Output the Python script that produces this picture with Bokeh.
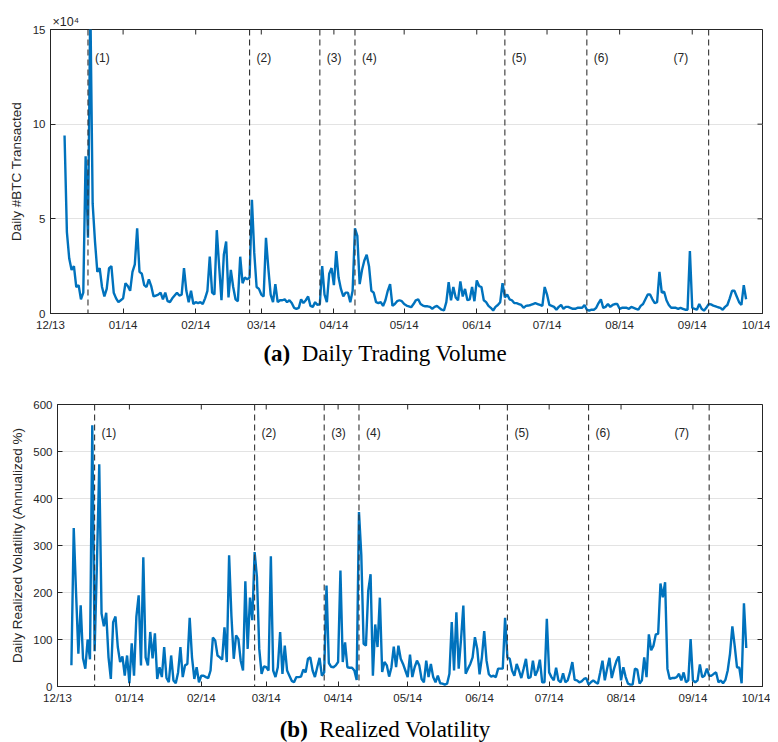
import math
import pandas as pd
from bokeh.plotting import figure
from bokeh.models import (Range1d, FixedTicker, DatetimeTickFormatter, Span,
                          ColumnDataSource, Div)
from bokeh.layouts import column
from bokeh.core.properties import value
from bokeh.embed import file_html
from bokeh.resources import INLINE

# ---------------- data ----------------
START_DATE = "2013-12-07"          # first daily observation
X_START, X_END = "2013-12-01", "2014-10-01"

# daily #BTC transacted, in units of 1e4
volume = [
    9.4, 4.3, 2.9, 2.3, 2.5, 1.4, 1.5, 0.75, 1.1, 8.3,
    4.0, 16.5, 5.8, 3.8, 2.2, 2.4, 1.4, 0.9, 1.3, 2.4,
    2.5, 1.1, 0.8, 0.6, 0.7, 0.8, 1.6, 1.45, 1.2, 2.2,
    2.6, 4.5, 2.2, 2.1, 1.5, 1.4, 1.8, 1.45, 0.9, 0.95,
    1.0, 1.1, 0.75, 1.1, 0.65, 0.6, 0.8, 0.95, 1.1, 0.95,
    1.0, 2.4, 1.2, 0.6, 1.2, 0.5, 0.6, 0.55, 0.6, 0.5,
    0.8, 1.2, 3.0, 1.1, 1.0, 4.4, 2.5, 0.7, 3.1, 3.8,
    0.85, 2.3, 1.4, 0.75, 0.65, 3.0, 1.6, 1.9, 1.8, 1.9,
    6.0, 3.2, 1.4, 1.3, 1.0, 0.9, 4.0, 2.4, 1.0, 0.6,
    1.55, 0.6, 0.7, 0.7, 0.75, 0.6, 0.7, 0.55, 0.3, 0.25,
    0.3, 0.75, 0.55, 0.7, 0.9, 0.4, 0.35, 0.6, 0.45, 0.5,
    2.5, 1.0, 0.6, 2.1, 2.4, 1.5, 3.3, 1.9, 1.3, 0.9,
    1.1, 1.1, 0.6, 1.2, 4.5, 4.1, 1.55, 2.3, 2.8, 3.1,
    2.5, 1.2, 1.1, 0.6, 0.55, 0.6, 0.4, 0.7, 1.2, 1.55,
    0.4, 0.5, 0.65, 0.7, 0.65, 0.5, 0.42, 0.38, 0.33, 0.5,
    0.7, 0.75, 0.5, 0.42, 0.38, 0.38, 0.35, 0.25, 0.35, 0.4,
    0.3, 0.2, 0.16, 0.6, 1.65, 0.7, 1.4, 0.85, 0.7, 1.7,
    0.9, 1.3, 0.7, 0.75, 1.4, 0.65, 1.75, 1.45, 1.4, 0.7,
    0.6, 0.4, 0.3, 0.16, 0.35, 0.45, 0.6, 1.6, 0.85, 1.0,
    0.75, 0.7, 0.55, 0.55, 0.5, 0.45, 0.3, 0.4, 0.42, 0.45,
    0.5, 0.55, 0.5, 0.45, 0.4, 1.4, 1.0, 0.45, 0.4, 0.35,
    0.2, 0.35, 0.45, 0.25, 0.35, 0.35, 0.3, 0.25, 0.25, 0.3,
    0.3, 0.3, 0.45, 0.2, 0.15, 0.2, 0.2, 0.3, 0.55, 0.75,
    0.3, 0.35, 0.5, 0.35, 0.45, 0.5, 0.5, 0.25, 0.3, 0.3,
    0.3, 0.25, 0.35, 0.3, 0.25, 0.2, 0.4, 0.5, 0.75, 1.0,
    1.0, 0.75, 0.55, 0.6, 2.2, 1.1, 1.15, 0.7, 0.45, 0.3,
    0.3, 0.3, 0.25, 0.3, 0.25, 0.2, 0.2, 3.3, 0.3, 0.25,
    0.2, 0.5, 0.25, 0.15, 0.3, 0.5, 0.48, 0.42, 0.38, 0.33,
    0.3, 0.2, 0.35, 0.45, 0.8, 1.2, 1.2, 0.9, 0.6, 0.45,
    1.5, 0.75,
]

# daily realized volatility, annualized %
volatility = [
    45, 337, 200, 70, 173, 60, 38, 100, 58, 556,
    75, 260, 473, 155, 128, 157, 62, 16, 137, 149,
    84, 52, 64, 23, 66, 7, 92, 23, 148, 194,
    45, 275, 62, 45, 116, 60, 113, 16, 41, 20,
    84, 18, 9, 66, 13, 7, 30, 84, 20, 45,
    48, 146, 62, 16, 41, 9, 23, 23, 20, 18,
    34, 104, 98, 66, 62, 57, 126, 52, 279, 150,
    59, 109, 101, 55, 34, 224, 80, 189, 141, 286,
    233, 80, 27, 43, 41, 34, 277, 34, 20, 41,
    116, 27, 87, 34, 23, 12, 9, 20, 20, 21,
    36, 30, 59, 62, 34, 20, 41, 61, 23, 30,
    215, 50, 42, 41, 45, 52, 247, 52, 94, 41,
    40, 40, 34, 14, 371, 280, 91, 87, 204, 239,
    23, 132, 84, 189, 31, 52, 45, 21, 41, 85,
    41, 87, 59, 48, 34, 20, 68, 20, 41, 55,
    45, 16, 9, 55, 20, 48, 20, 9, 23, 7,
    6, 4, 6, 27, 137, 34, 158, 38, 100, 172,
    27, 38, 48, 62, 105, 80, 26, 62, 118, 55,
    26, 21, 23, 20, 38, 38, 38, 146, 62, 59,
    34, 23, 48, 34, 18, 38, 59, 18, 20, 55,
    23, 34, 57, 9, 9, 144, 30, 20, 13, 40,
    13, 9, 28, 9, 13, 30, 52, 14, 13, 9,
    11, 16, 18, 4, 9, 13, 9, 6, 30, 55,
    13, 38, 61, 18, 38, 54, 64, 13, 41, 20,
    6, 4, 4, 38, 36, 6, 13, 62, 20, 111,
    77, 87, 111, 112, 219, 190, 222, 38, 16, 18,
    18, 20, 27, 13, 30, 9, 13, 101, 13, 9,
    13, 47, 20, 23, 38, 23, 23, 27, 30, 9,
    13, 7, 14, 34, 70, 128, 87, 41, 40, 7,
    177, 82,
]

event_dates = ["2013-12-17", "2014-02-24", "2014-03-26", "2014-04-10",
               "2014-06-13", "2014-07-18", "2014-09-08"]
event_labels = ["(1)", "(2)", "(3)", "(4)", "(5)", "(6)", "(7)"]
event_label_dates = ["2013-12-17", "2014-02-24", "2014-03-26", "2014-04-10",
                     "2014-06-13", "2014-07-18", "2014-08-21"]

month_ticks = ["2013-12-01", "2014-01-01", "2014-02-01", "2014-03-01",
               "2014-04-01", "2014-05-01", "2014-06-01", "2014-07-01",
               "2014-08-01", "2014-09-01", "2014-10-01"]
volume_ticks = [0, 5, 10, 15]
volatility_ticks = [0, 100, 200, 300, 400, 500, 600]

# ---------------- styling ----------------
BLUE = "#0072BD"
AX = "#262626"
SANS = "Liberation Sans"
SERIF = "Liberation Serif"
FIG_W = 770


def ms(d):
    return pd.Timestamp(d).value / 1e6


dates = pd.date_range(START_DATE, periods=len(volume), freq="D")
month_ms = [ms(d) for d in month_ticks]
fmt = DatetimeTickFormatter(days="%m/%y", months="%m/%y", years="%m/%y")


def style_axis(ax):
    ax.axis_line_color = AX
    ax.axis_line_width = 1
    ax.major_tick_line_color = AX
    ax.major_tick_in = 5
    ax.major_tick_out = 0
    ax.minor_tick_line_color = None
    ax.major_label_text_color = AX
    ax.major_label_text_font = SANS
    ax.major_label_text_font_size = "11.5px"
    ax.major_label_standoff = 5


def make_panel(values, y_end, y_ticks, y_label, height,
               b_top, b_bottom, b_left, label_standoff):
    p = figure(width=FIG_W, height=height, x_axis_type="datetime",
               output_backend="svg", toolbar_location=None,
               x_range=Range1d(ms(X_START), ms(X_END)),
               y_range=Range1d(0, y_end),
               min_border_left=b_left, min_border_right=8,
               min_border_top=b_top, min_border_bottom=b_bottom,
               frame_align=False)
    p.background_fill_color = "white"
    p.border_fill_color = "white"
    p.outline_line_color = AX
    p.outline_line_width = 1

    p.xgrid.grid_line_color = None
    yt = FixedTicker(ticks=y_ticks)
    p.ygrid.ticker = yt
    p.ygrid.grid_line_color = "#e3e3e3"
    p.ygrid.grid_line_width = 1

    src = ColumnDataSource(dict(date=dates, v=values))
    p.line("date", "v", source=src, line_color=BLUE, line_width=2.4)

    # axes (bottom / left with labels)
    xt = FixedTicker(ticks=month_ms)
    p.xaxis.ticker = xt
    p.xaxis.formatter = fmt
    style_axis(p.xaxis[0])
    p.yaxis.ticker = yt
    style_axis(p.yaxis[0])
    p.yaxis.axis_label = y_label
    p.yaxis.axis_label_text_font = SANS
    p.yaxis.axis_label_text_font_style = "normal"
    p.yaxis.axis_label_text_font_size = "13.5px"
    p.yaxis.axis_label_text_color = AX
    p.yaxis.axis_label_standoff = label_standoff

    # inward tick marks on the top and right edges of the box
    p.ray(x=month_ms, y=[y_end] * len(month_ms), length=5, length_units="screen",
          angle=-math.pi / 2, line_color=AX, line_width=1)
    p.ray(x=[ms(X_END)] * len(y_ticks), y=y_ticks, length=5, length_units="screen",
          angle=math.pi, line_color=AX, line_width=1)

    for d in event_dates:
        p.add_layout(Span(location=ms(d), dimension="height", line_color="#333333",
                          line_width=1.1, line_dash="6 4"))

    p.text(x=[ms(d) for d in event_label_dates], y=[y_end * 0.898] * len(event_labels),
           text=event_labels, x_offset=7, text_baseline="middle",
           text_align="left", text_font=value(SANS), text_font_size=value("12px"),
           text_color=AX)
    return p


def caption(tag, text, height, pad_top, line_h):
    html = (
        f'<div style="font-family:\'{SERIF}\',serif;font-size:23px;'
        f'line-height:{line_h}px;white-space:nowrap;text-align:center;'
        f'width:{FIG_W}px;padding-top:{pad_top}px;color:#000;">'
        f'<b>{tag}</b>&nbsp;&nbsp;{text}</div>'
    )
    return Div(text=html, width=FIG_W, height=height, margin=0)


p1 = make_panel(volume, 15, volume_ticks, "Daily #BTC Transacted",
                335, 29, 22, 50, 6)
p1.title.text = "\u00d710\u2074"
p1.title.align = "left"
p1.title.offset = 2
p1.title.standoff = 2
p1.title.text_font = SANS
p1.title.text_font_style = "normal"
p1.title.text_font_size = "12.5px"
p1.title.text_color = AX

cap1 = caption("(a)", "Daily Trading Volume", 40, 0, 38)

p2 = make_panel(volatility, 600, volatility_ticks,
                "Daily Realized Volatility (Annualized %)",
                333, 29, 22, 57, 5)

cap2 = caption("(b)", "Realized Volatility", 34, 11, 22)

layout = column(p1, cap1, p2, cap2, spacing=0)
open("out.html", "w").write(file_html(layout, INLINE))
